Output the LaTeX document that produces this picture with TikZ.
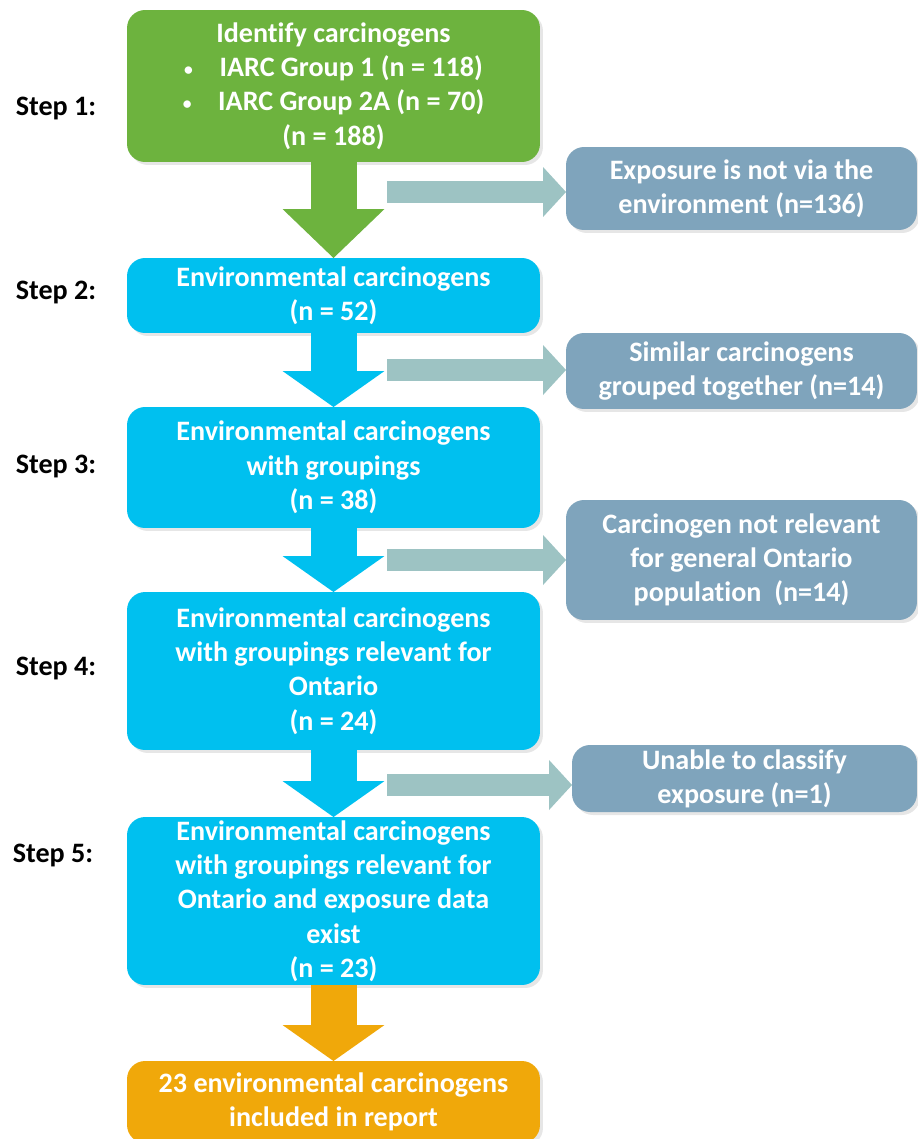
\documentclass[tikz,border=0pt]{standalone}
\usepackage{fontspec}
\setmainfont{Carlito}[Ligatures=NoCommon]
\usepackage{tikz}
\usetikzlibrary{arrows.meta, positioning, calc, shadows}
\definecolor{stepgreen}{RGB}{109, 179, 62}
\definecolor{stepcyan}{RGB}{0, 192, 239}
\definecolor{dropgrey}{RGB}{127, 164, 188}
\definecolor{sideteal}{RGB}{157, 195, 195}
\definecolor{finalorange}{RGB}{240, 168, 10}
\newcommand{\smallbullet}{{\fontsize{10}{10}\selectfont\raisebox{0.15ex}{•}}\hspace{0.95em}}
\tikzstyle{stepbox} = [rectangle, rounded corners=0.36cm, inner sep=0pt, outer sep=0pt, minimum width=8.26cm, text=white, align=center, font=\bfseries\fontsize{16}{19.5}\selectfont, drop shadow={opacity=0.2, shadow xshift=0.06cm, shadow yshift=-0.06cm}]
\tikzstyle{dropbox} = [stepbox, minimum width=7.02cm, fill=dropgrey]
\tikzstyle{steplabel} = [font=\bfseries\fontsize{16}{19.5}\selectfont, text=black]
\tikzstyle{downarrow} = [line width=0.92cm, -{Triangle[width=2.04cm, length=0.72cm, line width=0pt]}]
\tikzstyle{sidearrow} = [line width=0.44cm, sideteal, -{Triangle[width=1.0cm, length=0.46cm, line width=0pt]}]
\begin{document}
\begin{tikzpicture}[x=0.02cm, y=-0.02cm]
    \useasboundingbox (0, 0) rectangle (917, 1139);
    % Main steps
    \node[stepbox, fill=stepgreen, minimum height=3.04cm] (s1) at (333.5, 86) {Identify carcinogens\\
        \smallbullet IARC Group 1 (n = 118)\\
        \smallbullet IARC Group 2A (n = 70)\\
        (n = 188)};
    \node[stepbox, fill=stepcyan, minimum height=1.5cm] (s2) at (333.5, 295.5) {Environmental carcinogens\\(n = 52)};
    \node[stepbox, fill=stepcyan, minimum height=2.42cm] (s3) at (333.5, 467.5) {Environmental carcinogens\\with groupings\\(n = 38)};
    \node[stepbox, fill=stepcyan, minimum height=3.16cm] (s4) at (333.5, 671) {Environmental carcinogens\\with groupings relevant for\\Ontario\\(n = 24)};
    \node[stepbox, fill=stepcyan, minimum height=3.36cm] (s5) at (333.5, 901) {Environmental carcinogens\\with groupings relevant for\\Ontario and exposure data\\exist\\(n = 23)};
    \node[stepbox, fill=finalorange, minimum height=1.64cm] (final) at (333.5, 1102) {23 environmental carcinogens\\included in report};

    % Step labels
    \node[steplabel] (l1) at (56, 108) {Step 1:};
    \node[steplabel] (l2) at (56, 292) {Step 2:};
    \node[steplabel] (l3) at (56, 466) {Step 3:};
    \node[steplabel] (l4) at (56, 668) {Step 4:};
    \node[steplabel] (l5) at (53, 855) {Step 5:};

    % Excluded
    \node[dropbox, minimum height=1.66cm] (e1) at (741.5, 188.5) {Exposure is not via the\\environment (n=136)};
    \node[dropbox, minimum height=1.52cm] (e2) at (741.5, 371) {Similar carcinogens\\grouped together (n=14)};
    \node[dropbox, minimum height=2.4cm] (e3) at (741.5, 560) {Carcinogen not relevant\\for general Ontario\\population\ \ (n=14)};
    \node[dropbox, minimum width=6.9cm, minimum height=1.34cm] (e4) at (744.5, 778.5) {Unable to classify\\exposure (n=1)};

    % Arrows
    \draw[downarrow, stepgreen, -{Triangle[width=2.04cm, length=0.98cm, line width=0pt]}] (s1.south) -- (s2.north);
    \draw[downarrow, stepcyan] (s2.south) -- (s3.north);
    \draw[downarrow, stepcyan] (s3.south) -- (s4.north);
    \draw[downarrow, stepcyan] (s4.south) -- (s5.north);
    \draw[downarrow, finalorange] (s5.south) -- (final.north);
    \coordinate (x1) at (387, 192);
    \coordinate (x2) at (387, 370);
    \coordinate (x3) at (387, 560);
    \coordinate (x4) at (387, 785);
    \draw[sidearrow] (x1) -- (x1 -| e1.west);
    \draw[sidearrow] (x2) -- (x2 -| e2.west);
    \draw[sidearrow] (x3) -- (x3 -| e3.west);
    \draw[sidearrow] (x4) -- (x4 -| e4.west);
\end{tikzpicture}
\end{document}
